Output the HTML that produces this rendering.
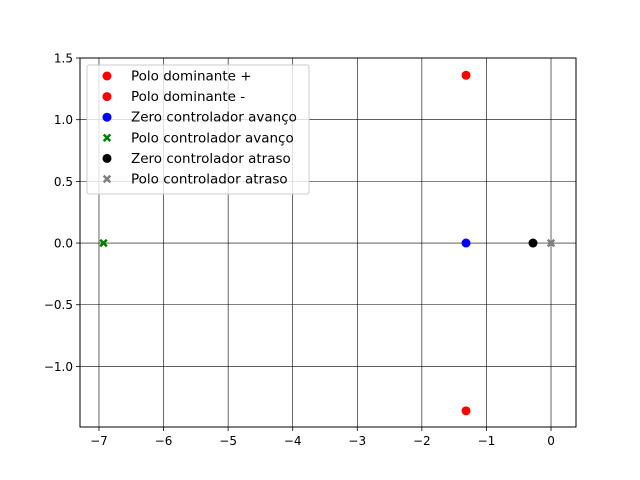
<!DOCTYPE html>
<html><head><meta charset="utf-8"><style>body{margin:0;background:#fff}svg{display:block;font-family:"DejaVu Sans","Liberation Sans",sans-serif}</style></head>
<body>
<svg id="chart" width="640" height="480"></svg>
<script>
const xTicks=[-7,-6,-5,-4,-3,-2,-1,0];
const yTicks=[-1.0,-0.5,0.0,0.5,1.0,1.5];
const seriesNames=["Polo dominante +","Polo dominante -","Zero controlador avanço","Polo controlador avanço","Zero controlador atraso","Polo controlador atraso"];
const seriesX=[-1.316,-1.316,-1.316,-6.93,-0.279,0.0];
const seriesY=[1.36,-1.36,0.0,0.0,0.0,0.0];
const seriesColor=["#ff0000","#ff0000","#0000ff","#008000","#000000","#808080"];
const seriesMarker=["o","o","o","X","o","X"];
const L=80,R=576,T=58,B=427,xmin=-7.294,xmax=0.387,ymin=-1.491,ymax=1.5;
const sx=v=>L+(v-xmin)/(xmax-xmin)*(R-L);
const sy=v=>B-(v-ymin)/(ymax-ymin)*(B-T);
const svg=document.getElementById('chart');
const NS="http://www.w3.org/2000/svg";
function mk(t,a,p){const e=document.createElementNS(NS,t);for(const k in a)e.setAttribute(k,a[k]);(p||svg).appendChild(e);return e;}
function marker(type,cx,cy,color,p){
 if(type==="o") return mk('circle',{cx:cx,cy:cy,r:4.5,fill:color},p);
 const s=4.2,w=1.8;
 return mk('path',{d:`M${cx-s},${cy-s+w}L${cx-w},${cy}L${cx-s},${cy+s-w}L${cx-s+w},${cy+s}L${cx},${cy+w}L${cx+s-w},${cy+s}L${cx+s},${cy+s-w}L${cx+w},${cy}L${cx+s},${cy-s+w}L${cx+s-w},${cy-s}L${cx},${cy-w}L${cx-s+w},${cy-s}Z`,fill:color},p);
}
xTicks.forEach(v=>{const x=sx(v);
 const g=mk('line',{x1:x,x2:x,y1:T,y2:B,stroke:'#000','stroke-width':0.6});
 
 mk('line',{x1:x,x2:x,y1:B,y2:B+4,stroke:'#000','stroke-width':0.8});
 const t=mk('text',{x:x,y:B+18,'text-anchor':'middle','font-size':12});t.textContent=(v<0?'−'+(-v):v);
 
});
yTicks.forEach(v=>{const y=sy(v);
 const g=mk('line',{x1:L,x2:R,y1:y,y2:y,stroke:'#000','stroke-width':0.6});
 
 mk('line',{x1:L-4,x2:L,y1:y,y2:y,stroke:'#000','stroke-width':0.8});
 const t=mk('text',{x:L-7,y:y+4.5,'text-anchor':'end','font-size':12});t.textContent=(v<0?'−':'')+Math.abs(v).toFixed(1);
 
});
seriesX.forEach((v,i)=>{const m=marker(seriesMarker[i],sx(v),sy(seriesY[i]),seriesColor[i]);
 });
const frame=mk('rect',{x:L,y:T,width:R-L,height:B-T,fill:'none',stroke:'#000','stroke-width':1});

const lg=mk('g',{});
mk('rect',{x:87,y:65,width:222,height:129,rx:2,fill:'#fff','fill-opacity':0.8,stroke:'#ccc','stroke-width':1},lg);
seriesNames.forEach((n,i)=>{const y=76+i*20.6;
 marker(seriesMarker[i],107,y,seriesColor[i],lg);
 const t=mk('text',{x:131,y:y+4.5,'font-size':13.5},lg);t.textContent=n;
 
});
</script>
</body></html>
